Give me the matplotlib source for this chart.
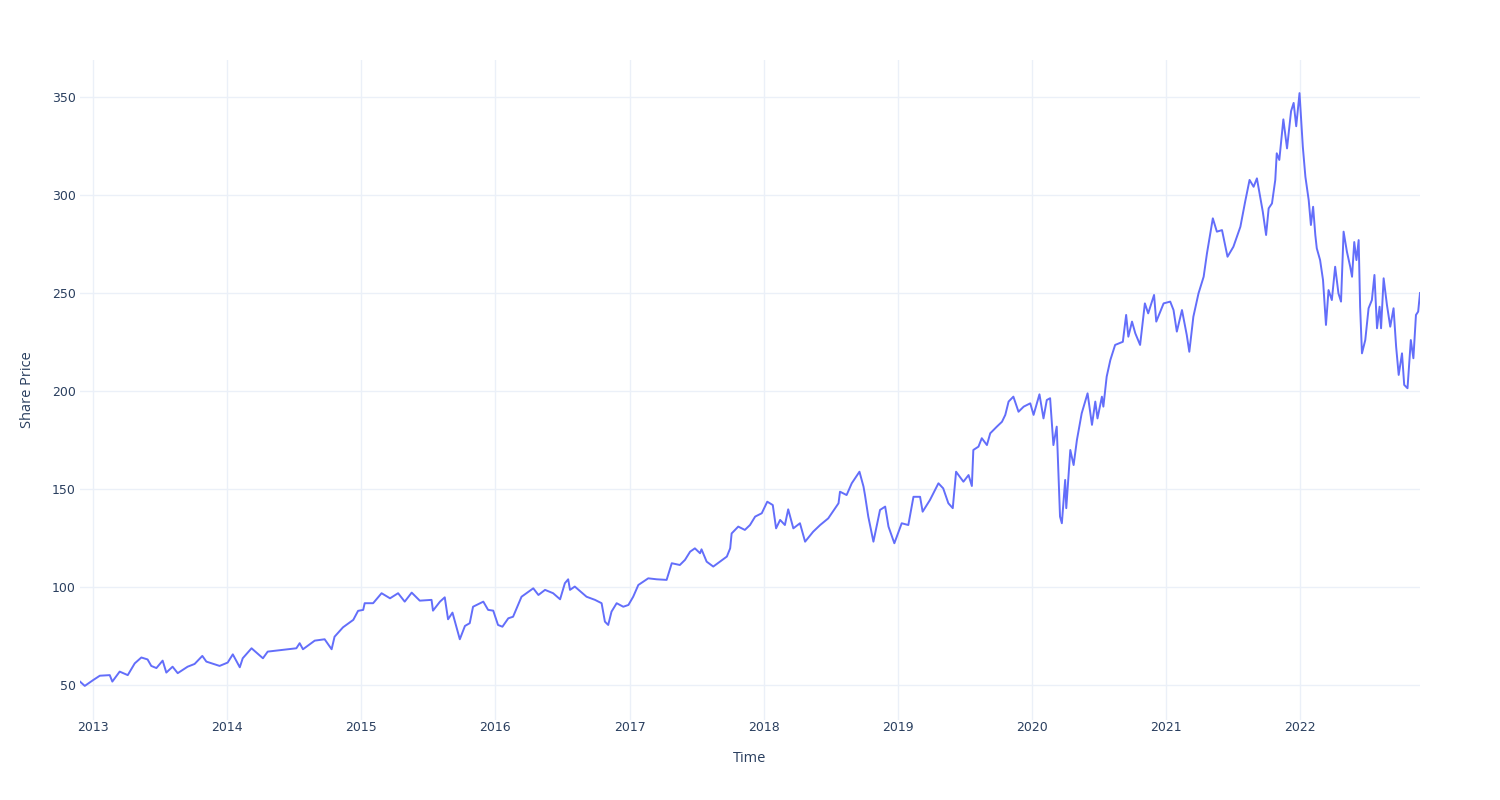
# Share price over time, plotly-white look in matplotlib
import pandas as pd
import matplotlib.pyplot as plt
import matplotlib.dates as mdates

# Data
dates = [
    '2012-11-27', '2012-12-10', '2013-01-02', '2013-01-20', '2013-02-16', '2013-02-23',
    '2013-03-15', '2013-04-06', '2013-04-25', '2013-05-13', '2013-05-30', '2013-06-09',
    '2013-06-23', '2013-07-10', '2013-07-20', '2013-08-06', '2013-08-20', '2013-09-16',
    '2013-10-05', '2013-10-26', '2013-11-06', '2013-12-12', '2014-01-03', '2014-01-17',
    '2014-02-05', '2014-02-13', '2014-03-09', '2014-04-09', '2014-04-22', '2014-06-02',
    '2014-07-09', '2014-07-18', '2014-07-27', '2014-08-28', '2014-09-24', '2014-10-13',
    '2014-10-21', '2014-11-13', '2014-12-11', '2014-12-24', '2015-01-07', '2015-01-11',
    '2015-02-03', '2015-02-26', '2015-03-21', '2015-04-12', '2015-04-30', '2015-05-19',
    '2015-06-10', '2015-07-12', '2015-07-16', '2015-08-04', '2015-08-17', '2015-08-26',
    '2015-09-07', '2015-09-27', '2015-10-11', '2015-10-24', '2015-11-02', '2015-11-30',
    '2015-12-13', '2015-12-27', '2016-01-09', '2016-01-21', '2016-02-06', '2016-02-19',
    '2016-03-13', '2016-04-14', '2016-04-28', '2016-05-16', '2016-06-07', '2016-06-26',
    '2016-07-09', '2016-07-18', '2016-07-23', '2016-08-05', '2016-09-06', '2016-09-29',
    '2016-10-17', '2016-10-26', '2016-11-04', '2016-11-13', '2016-11-27', '2016-12-15',
    '2016-12-29', '2017-01-11', '2017-01-25', '2017-02-21', '2017-03-16', '2017-04-12',
    '2017-04-26', '2017-05-18', '2017-06-01', '2017-06-15', '2017-06-28', '2017-07-12',
    '2017-07-16', '2017-07-30', '2017-08-17', '2017-09-04', '2017-09-23', '2017-10-02',
    '2017-10-06', '2017-10-24', '2017-11-11', '2017-11-25', '2017-12-09', '2017-12-27',
    '2018-01-11', '2018-01-26', '2018-02-04', '2018-02-15', '2018-02-28', '2018-03-09',
    '2018-03-23', '2018-04-10', '2018-04-24', '2018-05-16', '2018-06-04', '2018-06-26',
    '2018-07-24', '2018-07-28', '2018-08-15', '2018-08-29', '2018-09-19', '2018-09-30',
    '2018-10-04', '2018-10-13', '2018-10-27', '2018-11-14', '2018-11-28', '2018-12-07',
    '2018-12-23', '2019-01-12', '2019-01-30', '2019-02-13', '2019-03-03', '2019-03-10',
    '2019-03-30', '2019-04-22', '2019-05-05', '2019-05-19', '2019-05-31', '2019-06-09',
    '2019-06-29', '2019-07-13', '2019-07-22', '2019-07-26', '2019-08-09', '2019-08-18',
    '2019-09-01', '2019-09-10', '2019-09-28', '2019-10-12', '2019-10-21', '2019-10-30',
    '2019-11-12', '2019-11-26', '2019-12-10', '2019-12-28', '2020-01-06', '2020-01-22',
    '2020-02-02', '2020-02-11', '2020-02-20', '2020-02-29', '2020-03-09', '2020-03-18',
    '2020-03-23', '2020-04-01', '2020-04-04', '2020-04-15', '2020-04-24', '2020-05-03',
    '2020-05-16', '2020-06-01', '2020-06-13', '2020-06-22', '2020-06-28', '2020-07-10',
    '2020-07-14', '2020-07-23', '2020-08-02', '2020-08-15', '2020-09-05', '2020-09-14',
    '2020-09-20', '2020-09-30', '2020-10-09', '2020-10-22', '2020-11-04', '2020-11-13',
    '2020-11-29', '2020-12-05', '2020-12-25', '2021-01-12', '2021-01-21', '2021-01-30',
    '2021-02-13', '2021-02-26', '2021-03-05', '2021-03-16', '2021-03-30', '2021-04-13',
    '2021-04-22', '2021-05-08', '2021-05-19', '2021-06-02', '2021-06-17', '2021-07-03',
    '2021-07-22', '2021-08-04', '2021-08-16', '2021-08-27', '2021-09-05', '2021-09-14',
    '2021-09-21', '2021-09-30', '2021-10-07', '2021-10-16', '2021-10-25', '2021-10-29',
    '2021-11-05', '2021-11-16', '2021-11-26', '2021-12-07', '2021-12-14', '2021-12-21',
    '2021-12-30', '2022-01-08', '2022-01-15', '2022-01-24', '2022-01-30', '2022-02-05',
    '2022-02-11', '2022-02-15', '2022-02-24', '2022-03-04', '2022-03-12', '2022-03-19',
    '2022-03-28', '2022-04-06', '2022-04-15', '2022-04-22', '2022-04-29', '2022-05-08',
    '2022-05-17', '2022-05-22', '2022-05-28', '2022-06-03', '2022-06-09', '2022-06-13',
    '2022-06-18', '2022-06-27', '2022-07-06', '2022-07-15', '2022-07-22', '2022-07-29',
    '2022-08-05', '2022-08-09', '2022-08-16', '2022-08-25', '2022-09-03', '2022-09-12',
    '2022-09-19', '2022-09-26', '2022-10-05', '2022-10-11', '2022-10-20', '2022-10-29',
    '2022-11-05', '2022-11-12', '2022-11-18', '2022-11-23',
]

prices = [
    51.7, 49.5, 52.5, 54.7, 55.0, 51.7,
    56.8, 55.0, 61.0, 64.0, 63.0, 59.7,
    58.6, 62.4, 56.3, 59.3, 56.0, 59.3,
    60.7, 64.8, 61.9, 59.7, 61.4, 65.6,
    59.0, 63.6, 68.7, 63.6, 67.0, 67.9,
    68.7, 71.3, 68.2, 72.6, 73.3, 68.2,
    74.6, 79.4, 83.2, 87.8, 88.3, 91.7,
    91.7, 96.8, 94.2, 96.8, 92.5, 97.1,
    93.0, 93.4, 87.9, 92.5, 94.7, 83.5,
    86.9, 73.3, 80.1, 81.5, 89.9, 92.5,
    88.3, 87.9, 80.6, 79.7, 84.0, 84.8,
    95.0, 99.3, 95.9, 98.5, 96.8, 93.7,
    101.9, 103.9, 98.5, 100.2, 95.0, 93.4,
    91.7, 82.3, 80.6, 87.4, 91.7, 89.9,
    90.8, 95.0, 101.0, 104.4, 103.9, 103.6,
    112.1, 111.2, 113.8, 118.0, 119.7, 117.2,
    119.2, 112.9, 110.4, 112.9, 115.5, 119.7,
    127.3, 130.8, 129.1, 131.6, 135.9, 137.6,
    143.5, 141.8, 129.9, 134.2, 131.6, 139.6,
    129.9, 132.5, 123.1, 128.2, 131.6, 135.0,
    142.7, 148.6, 146.9, 152.9, 158.8, 151.2,
    146.9, 135.9, 123.1, 139.3, 141.0, 130.8,
    122.3, 132.5, 131.6, 146.0, 146.0, 138.4,
    144.4, 152.9, 150.3, 142.7, 140.2, 158.8,
    153.7, 157.1, 151.5, 169.9, 171.6, 175.9,
    172.4, 178.4, 181.8, 184.3, 187.8, 194.6,
    197.1, 189.4, 192.0, 193.7, 187.8, 198.3,
    186.0, 195.4, 196.3, 172.4, 181.8, 135.9,
    132.5, 154.6, 140.2, 169.9, 162.2, 175.0,
    188.6, 198.8, 182.7, 194.6, 186.0, 197.1,
    192.0, 207.3, 215.8, 223.5, 225.1, 238.8,
    227.7, 235.4, 229.4, 223.5, 244.7, 239.6,
    249.0, 235.4, 244.7, 245.6, 241.3, 230.3,
    241.3, 228.6, 220.0, 237.9, 249.8, 258.3,
    270.2, 288.1, 281.3, 282.1, 268.5, 273.6,
    283.8, 296.6, 307.7, 304.2, 308.5, 299.1,
    291.5, 279.6, 293.2, 295.7, 307.7, 321.3,
    317.9, 338.6, 323.8, 342.8, 347.0, 335.1,
    352.0, 324.6, 309.3, 297.4, 284.7, 294.0,
    279.6, 272.8, 266.8, 256.6, 233.7, 251.5,
    246.4, 263.4, 249.8, 245.6, 281.3, 271.1,
    263.4, 258.3, 276.0, 266.8, 277.0, 243.0,
    219.2, 226.0, 242.2, 246.4, 259.2, 232.0,
    243.0, 232.0, 257.5, 243.9, 232.8, 242.2,
    222.6, 208.2, 219.2, 203.1, 201.4, 226.0,
    216.7, 238.8, 240.5, 250.0,
]

y_ticks = [50, 100, 150, 200, 250, 300, 350]
x_ticks = [str(y) for y in range(2013, 2023)]

df = pd.DataFrame({'Date': pd.to_datetime(dates), 'Price': prices})

grid_color = '#EBF0F8'
text_color = '#2a3f5f'

fig = plt.figure(figsize=(15, 8), dpi=100)
ax = fig.add_axes([80/1500, 80/800, 1340/1500, 660/800])

ax.plot(df['Date'], df['Price'], color='#636EFA', linewidth=1.4, zorder=3)

ax.set_xlim(df['Date'].min(), df['Date'].max())
ax.set_ylim(32.1, 368.9)

ax.set_yticks(y_ticks)
ax.set_xticks(pd.to_datetime([y + '-01-01' for y in x_ticks]))
ax.xaxis.set_major_formatter(mdates.DateFormatter('%Y'))

for s in ax.spines.values():
	s.set_visible(False)
ax.grid(True, color=grid_color, linewidth=1)
ax.set_axisbelow(True)
ax.tick_params(axis='both', length=0, labelsize=9, labelcolor=text_color)
ax.tick_params(axis='x', pad=1)
ax.tick_params(axis='y', pad=3)

ax.set_xlabel('Time', fontsize=10.5, color=text_color, family='Open Sans', labelpad=12)
ax.set_ylabel('Share Price', fontsize=10.5, color=text_color, family='Open Sans', labelpad=12)

plt.savefig('out.png', dpi=100, facecolor='white')
plt.close()
